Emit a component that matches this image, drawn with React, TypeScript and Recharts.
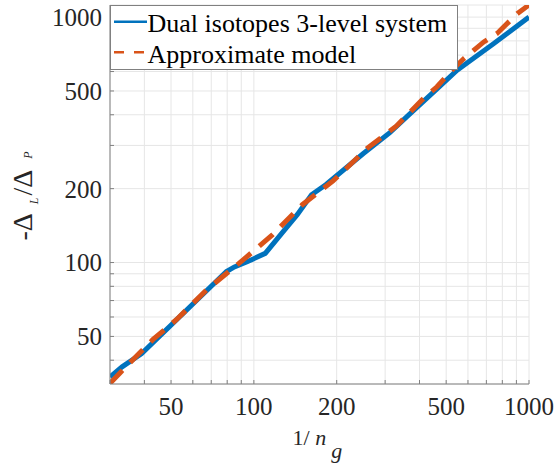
import React from 'react';
import { LineChart, Line, XAxis, YAxis, CartesianGrid, Legend } from 'recharts';

const xMajorTicks = [50, 100, 200, 500, 1000];
const yMajorTicks = [50, 100, 200, 500, 1000];
const xAllTicks = [30, 40, 50, 60, 70, 80, 90, 100, 200, 300, 400, 500, 600, 700, 800, 900, 1000];
const yAllTicks = [40, 50, 60, 70, 80, 90, 100, 200, 300, 400, 500, 600, 700, 800, 900, 1000];

const dualX = [30, 33.2, 39.1, 79.5, 85, 95, 110, 128, 144, 162, 183, 250, 312, 360, 463, 548, 745, 1000];
const dualY = [34.2, 37.6, 42.6, 91.9, 96, 101, 109, 134, 157, 189, 208, 278, 338, 393, 510, 608, 780, 1000];

const approxX = [30, 33, 38.5, 43, 52.4, 67.4, 91.6, 117, 150, 194, 260, 330, 408, 463, 532, 580, 685, 766, 906, 1000];
const approxY = [32.2, 36, 42.9, 48.6, 58.6, 77.5, 102.7, 130, 172, 215, 294, 360, 459, 520, 618, 678, 792, 858, 1033, 1120];

const seriesNames = ['Dual isotopes 3-level system', 'Approximate model'];
const seriesColors = ['#0072BD', '#D95319'];

const dualData = dualX.map((x, i) => ({ x, y: dualY[i] }));
const approxData = approxX.map((x, i) => ({ x, y: approxY[i] }));

const FONT = "'Liberation Serif', 'DejaVu Serif', serif";
const BOX = '#808080';

const fmtX = (v: number) => (xMajorTicks.includes(v) ? String(v) : '');
const fmtY = (v: number) => (yMajorTicks.includes(v) ? String(v) : '');

const LegendBox = () => (
  <svg width={348} height={65} style={{ display: 'block' }}>
    <rect x={0.5} y={0.5} width={347} height={64} fill="#fff" stroke={BOX} strokeWidth={1} />
    {seriesNames.map((name, i) => (
      <g key={name}>
        <line
          x1={4}
          x2={37}
          y1={16.7 + i * 30.6}
          y2={16.7 + i * 30.6}
          stroke={seriesColors[i]}
          strokeWidth={2.5}
          strokeDasharray={i === 1 ? '10 10' : undefined}
        />
        <text x={37.5} y={27 + i * 30.5} style={{ fontFamily: FONT }} fontSize={26} fill="#000">
          {name}
        </text>
      </g>
    ))}
  </svg>
);

const XLabel = (props: any) => {
  const vb = props.viewBox || { x: 110, y: 384, width: 419, height: 82 };
  const x0 = vb.x + vb.width / 2 - 27;
  const y0 = vb.y + 61;
  return (
    <text x={x0} y={y0} style={{ fontFamily: FONT }} fontSize={22} fill="#262626" textAnchor="start">
      <tspan>1/ </tspan>
      <tspan fontStyle="italic">n</tspan>
      <tspan fontStyle="italic" dx={5} dy={13}>g</tspan>
    </text>
  );
};

const YLabel = (props: any) => {
  const vb = props.viewBox || { x: 0, y: 5, width: 110, height: 379 };
  const cx = vb.x + 31.7;
  const cy = vb.y + vb.height / 2 + 46;
  return (
    <text
      x={0}
      y={0}
      transform={`translate(${cx},${cy}) rotate(-90)`}
      style={{ fontFamily: FONT }}
      fontSize={28}
      fill="#262626"
      textAnchor="start"
    >
      <tspan>-Δ</tspan>
      <tspan fontSize={12} fontStyle="italic" dx={9} dy={6.5}>L</tspan>
      <tspan dx={2} dy={-6.5}>/Δ</tspan>
      <tspan fontSize={12} fontStyle="italic" dx={11}>P</tspan>
    </text>
  );
};

export default function App() {
  return (
    <div style={{ position: 'absolute', left: 0, top: 0, width: 555, height: 466, background: '#fff', fontFamily: FONT }}>
      <LineChart width={555} height={466} margin={{ top: 5, right: 26, bottom: 0, left: 0 }} style={{ fontFamily: FONT }}>
        <CartesianGrid stroke="#e6e6e6" strokeWidth={1} />
        <XAxis
          dataKey="x"
          type="number"
          scale="log"
          domain={[30, 1000]}
          allowDataOverflow
          ticks={xAllTicks}
          interval={0}
          tickFormatter={fmtX}
          height={82}
          tickSize={-4}
          tickMargin={17.5}
          stroke={BOX}
          tick={{ fontSize: 25, fill: '#262626', style: { fontFamily: FONT } }}
          label={{ content: (p: any) => <XLabel {...p} /> }}
        />
        <XAxis
          xAxisId="top"
          orientation="top"
          dataKey="x"
          type="number"
          scale="log"
          domain={[30, 1000]}
          allowDataOverflow
          ticks={xAllTicks}
          interval={0}
          tick={false}
          height={0}
          tickSize={-4}
          stroke={BOX}
        />
        <YAxis
          dataKey="y"
          type="number"
          scale="log"
          domain={[32, 1120]}
          allowDataOverflow
          ticks={yAllTicks}
          interval={0}
          tickFormatter={fmtY}
          width={110}
          tickSize={-4}
          tickMargin={12}
          stroke={BOX}
          tick={{ fontSize: 25, fill: '#262626', style: { fontFamily: FONT } }}
          label={{ content: (p: any) => <YLabel {...p} /> }}
        />
        <YAxis
          yAxisId="right"
          orientation="right"
          dataKey="y"
          type="number"
          scale="log"
          domain={[32, 1120]}
          allowDataOverflow
          ticks={yAllTicks}
          interval={0}
          tick={false}
          width={0}
          tickSize={-4}
          stroke={BOX}
        />
        <Line
          data={dualData}
          dataKey="y"
          name={seriesNames[0]}
          type="linear"
          stroke={seriesColors[0]}
          strokeWidth={5}
          dot={false}
          isAnimationActive={false}
        />
        <Line
          data={approxData}
          dataKey="y"
          name={seriesNames[1]}
          type="linear"
          stroke={seriesColors[1]}
          strokeWidth={5}
          strokeDasharray="18 11"
          dot={false}
          isAnimationActive={false}
        />
        <Legend
          layout="horizontal"
          verticalAlign="middle"
          align="center"
          wrapperStyle={{ position: 'absolute', left: 110, top: 5, width: 348, height: 65, margin: 0, padding: 0 }}
          content={() => <LegendBox />}
        />
      </LineChart>
    </div>
  );
}
